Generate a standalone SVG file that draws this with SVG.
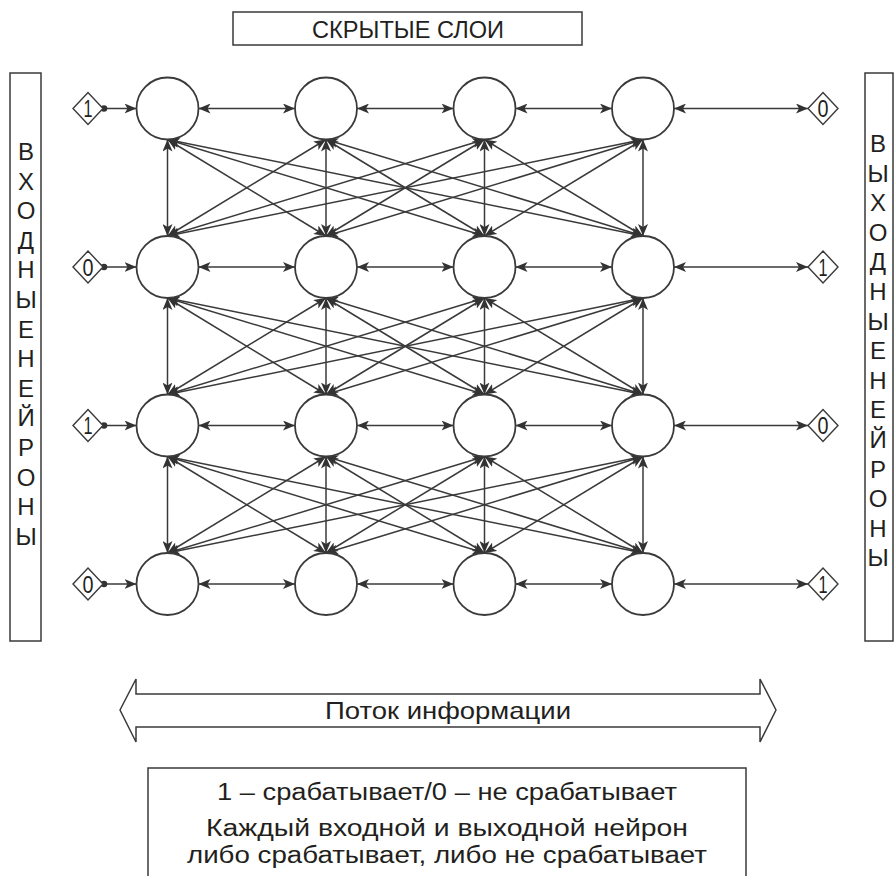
<svg xmlns="http://www.w3.org/2000/svg" width="895" height="876" viewBox="0 0 895 876">
<defs>
<style>
.ln{stroke:#3a3a3a;stroke-width:1.5;fill:none}
.bi{marker-start:url(#ah);marker-end:url(#ah)}
.un{marker-end:url(#ah)}
.box{fill:#fff;stroke:#3a3a3a;stroke-width:1.5}
.nd{fill:#fff;stroke:#3a3a3a;stroke-width:1.8}
.dm{fill:#fff;stroke:#3a3a3a;stroke-width:1.4}
.t{font-family:"Liberation Sans","Open Sans",sans-serif;fill:#231f20}
.lbl{font-size:24px;text-anchor:middle}
.lg{font-size:23px;text-anchor:middle}
.dg{font-size:23px;text-anchor:middle}
</style>
<marker id="ah" viewBox="0 0 12 10" refX="12" refY="5" markerWidth="12" markerHeight="10" orient="auto-start-reverse" markerUnits="userSpaceOnUse">
<path d="M0,0 L12,5 L0,10 L3,5 z" fill="#333"/>
</marker>
</defs>

<g id="title">
<rect class="box" x="233" y="12" width="349" height="33"/>
<text class="t lbl" x="408" y="38" textLength="192" lengthAdjust="spacingAndGlyphs">СКРЫТЫЕ СЛОИ</text>
</g>

<g id="input-label">
<rect class="box" x="10" y="73" width="31" height="568"/>
<text class="t lbl" x="26" y="160">В</text>
<text class="t lbl" x="26" y="189.6">Х</text>
<text class="t lbl" x="26" y="219.2">О</text>
<text class="t lbl" x="26" y="248.8">Д</text>
<text class="t lbl" x="26" y="278.4">Н</text>
<text class="t lbl" x="26" y="308">Ы</text>
<text class="t lbl" x="26" y="337.6">Е</text>
<text class="t lbl" x="26" y="367.2">Н</text>
<text class="t lbl" x="26" y="396.8">Е</text>
<text class="t lbl" x="26" y="426.4">Й</text>
<text class="t lbl" x="26" y="456">Р</text>
<text class="t lbl" x="26" y="485.6">О</text>
<text class="t lbl" x="26" y="515.2">Н</text>
<text class="t lbl" x="26" y="544.8">Ы</text>
</g>

<g id="output-label">
<rect class="box" x="865" y="73" width="28" height="568"/>
<text class="t lbl" x="878" y="152">В</text>
<text class="t lbl" x="878" y="181.6">Ы</text>
<text class="t lbl" x="878" y="211.2">Х</text>
<text class="t lbl" x="878" y="240.8">О</text>
<text class="t lbl" x="878" y="270.4">Д</text>
<text class="t lbl" x="878" y="300">Н</text>
<text class="t lbl" x="878" y="329.6">Ы</text>
<text class="t lbl" x="878" y="359.2">Е</text>
<text class="t lbl" x="878" y="388.8">Н</text>
<text class="t lbl" x="878" y="418.4">Е</text>
<text class="t lbl" x="878" y="448">Й</text>
<text class="t lbl" x="878" y="477.6">Р</text>
<text class="t lbl" x="878" y="507.2">О</text>
<text class="t lbl" x="878" y="536.8">Н</text>
<text class="t lbl" x="878" y="566.4">Ы</text>
</g>

<g id="connectors">
<line class="ln un" x1="104" y1="108.5" x2="136.5" y2="108.5"/>
<line class="ln un" x1="104" y1="267" x2="136.5" y2="267"/>
<line class="ln un" x1="104" y1="425.5" x2="136.5" y2="425.5"/>
<line class="ln un" x1="104" y1="584" x2="136.5" y2="584"/>
<circle cx="104" cy="108.5" r="3.3" fill="#333"/>
<circle cx="104" cy="267" r="3.3" fill="#333"/>
<circle cx="104" cy="425.5" r="3.3" fill="#333"/>
<circle cx="104" cy="584" r="3.3" fill="#333"/>
<line class="ln bi" x1="674" y1="108.5" x2="808" y2="108.5"/>
<line class="ln bi" x1="674" y1="267" x2="808" y2="267"/>
<line class="ln bi" x1="674" y1="425.5" x2="808" y2="425.5"/>
<line class="ln bi" x1="674" y1="584" x2="808" y2="584"/>
<line class="ln bi" x1="198.5" y1="108.5" x2="295" y2="108.5"/>
<line class="ln bi" x1="357" y1="108.5" x2="453.5" y2="108.5"/>
<line class="ln bi" x1="515.5" y1="108.5" x2="612" y2="108.5"/>
<line class="ln bi" x1="198.5" y1="267" x2="295" y2="267"/>
<line class="ln bi" x1="357" y1="267" x2="453.5" y2="267"/>
<line class="ln bi" x1="515.5" y1="267" x2="612" y2="267"/>
<line class="ln bi" x1="198.5" y1="425.5" x2="295" y2="425.5"/>
<line class="ln bi" x1="357" y1="425.5" x2="453.5" y2="425.5"/>
<line class="ln bi" x1="515.5" y1="425.5" x2="612" y2="425.5"/>
<line class="ln bi" x1="198.5" y1="584" x2="295" y2="584"/>
<line class="ln bi" x1="357" y1="584" x2="453.5" y2="584"/>
<line class="ln bi" x1="515.5" y1="584" x2="612" y2="584"/>
<line class="ln bi" x1="167.5" y1="139.5" x2="167.5" y2="236"/>
<line class="ln bi" x1="167.5" y1="139.5" x2="326" y2="236"/>
<line class="ln bi" x1="167.5" y1="139.5" x2="484.5" y2="236"/>
<line class="ln bi" x1="167.5" y1="139.5" x2="643" y2="236"/>
<line class="ln bi" x1="326" y1="139.5" x2="167.5" y2="236"/>
<line class="ln bi" x1="326" y1="139.5" x2="326" y2="236"/>
<line class="ln bi" x1="326" y1="139.5" x2="484.5" y2="236"/>
<line class="ln bi" x1="326" y1="139.5" x2="643" y2="236"/>
<line class="ln bi" x1="484.5" y1="139.5" x2="167.5" y2="236"/>
<line class="ln bi" x1="484.5" y1="139.5" x2="326" y2="236"/>
<line class="ln bi" x1="484.5" y1="139.5" x2="484.5" y2="236"/>
<line class="ln bi" x1="484.5" y1="139.5" x2="643" y2="236"/>
<line class="ln bi" x1="643" y1="139.5" x2="167.5" y2="236"/>
<line class="ln bi" x1="643" y1="139.5" x2="326" y2="236"/>
<line class="ln bi" x1="643" y1="139.5" x2="484.5" y2="236"/>
<line class="ln bi" x1="643" y1="139.5" x2="643" y2="236"/>
<line class="ln bi" x1="167.5" y1="298" x2="167.5" y2="394.5"/>
<line class="ln bi" x1="167.5" y1="298" x2="326" y2="394.5"/>
<line class="ln bi" x1="167.5" y1="298" x2="484.5" y2="394.5"/>
<line class="ln bi" x1="167.5" y1="298" x2="643" y2="394.5"/>
<line class="ln bi" x1="326" y1="298" x2="167.5" y2="394.5"/>
<line class="ln bi" x1="326" y1="298" x2="326" y2="394.5"/>
<line class="ln bi" x1="326" y1="298" x2="484.5" y2="394.5"/>
<line class="ln bi" x1="326" y1="298" x2="643" y2="394.5"/>
<line class="ln bi" x1="484.5" y1="298" x2="167.5" y2="394.5"/>
<line class="ln bi" x1="484.5" y1="298" x2="326" y2="394.5"/>
<line class="ln bi" x1="484.5" y1="298" x2="484.5" y2="394.5"/>
<line class="ln bi" x1="484.5" y1="298" x2="643" y2="394.5"/>
<line class="ln bi" x1="643" y1="298" x2="167.5" y2="394.5"/>
<line class="ln bi" x1="643" y1="298" x2="326" y2="394.5"/>
<line class="ln bi" x1="643" y1="298" x2="484.5" y2="394.5"/>
<line class="ln bi" x1="643" y1="298" x2="643" y2="394.5"/>
<line class="ln bi" x1="167.5" y1="456.5" x2="167.5" y2="553"/>
<line class="ln bi" x1="167.5" y1="456.5" x2="326" y2="553"/>
<line class="ln bi" x1="167.5" y1="456.5" x2="484.5" y2="553"/>
<line class="ln bi" x1="167.5" y1="456.5" x2="643" y2="553"/>
<line class="ln bi" x1="326" y1="456.5" x2="167.5" y2="553"/>
<line class="ln bi" x1="326" y1="456.5" x2="326" y2="553"/>
<line class="ln bi" x1="326" y1="456.5" x2="484.5" y2="553"/>
<line class="ln bi" x1="326" y1="456.5" x2="643" y2="553"/>
<line class="ln bi" x1="484.5" y1="456.5" x2="167.5" y2="553"/>
<line class="ln bi" x1="484.5" y1="456.5" x2="326" y2="553"/>
<line class="ln bi" x1="484.5" y1="456.5" x2="484.5" y2="553"/>
<line class="ln bi" x1="484.5" y1="456.5" x2="643" y2="553"/>
<line class="ln bi" x1="643" y1="456.5" x2="167.5" y2="553"/>
<line class="ln bi" x1="643" y1="456.5" x2="326" y2="553"/>
<line class="ln bi" x1="643" y1="456.5" x2="484.5" y2="553"/>
<line class="ln bi" x1="643" y1="456.5" x2="643" y2="553"/>
</g>

<g id="in-0"><polygon class="dm" points="73,108.5 88,92.5 103,108.5 88,124.5"/><text class="t dg" x="88" y="117" textLength="9" lengthAdjust="spacingAndGlyphs">1</text></g>
<g id="in-1"><polygon class="dm" points="73,267 88,251 103,267 88,283"/><text class="t dg" x="88" y="275.5" textLength="11" lengthAdjust="spacingAndGlyphs">0</text></g>
<g id="in-2"><polygon class="dm" points="73,425.5 88,409.5 103,425.5 88,441.5"/><text class="t dg" x="88" y="434" textLength="9" lengthAdjust="spacingAndGlyphs">1</text></g>
<g id="in-3"><polygon class="dm" points="73,584 88,568 103,584 88,600"/><text class="t dg" x="88" y="592.5" textLength="11" lengthAdjust="spacingAndGlyphs">0</text></g>

<g id="out-0"><polygon class="dm" points="808,108.5 823,92.5 838,108.5 823,124.5"/><text class="t dg" x="823" y="117" textLength="11" lengthAdjust="spacingAndGlyphs">0</text></g>
<g id="out-1"><polygon class="dm" points="808,267 823,251 838,267 823,283"/><text class="t dg" x="823" y="275.5" textLength="9" lengthAdjust="spacingAndGlyphs">1</text></g>
<g id="out-2"><polygon class="dm" points="808,425.5 823,409.5 838,425.5 823,441.5"/><text class="t dg" x="823" y="434" textLength="11" lengthAdjust="spacingAndGlyphs">0</text></g>
<g id="out-3"><polygon class="dm" points="808,584 823,568 838,584 823,600"/><text class="t dg" x="823" y="592.5" textLength="9" lengthAdjust="spacingAndGlyphs">1</text></g>

<g id="n00"><circle class="nd" cx="167.5" cy="108.5" r="31"/></g>
<g id="n01"><circle class="nd" cx="326" cy="108.5" r="31"/></g>
<g id="n02"><circle class="nd" cx="484.5" cy="108.5" r="31"/></g>
<g id="n03"><circle class="nd" cx="643" cy="108.5" r="31"/></g>
<g id="n10"><circle class="nd" cx="167.5" cy="267" r="31"/></g>
<g id="n11"><circle class="nd" cx="326" cy="267" r="31"/></g>
<g id="n12"><circle class="nd" cx="484.5" cy="267" r="31"/></g>
<g id="n13"><circle class="nd" cx="643" cy="267" r="31"/></g>
<g id="n20"><circle class="nd" cx="167.5" cy="425.5" r="31"/></g>
<g id="n21"><circle class="nd" cx="326" cy="425.5" r="31"/></g>
<g id="n22"><circle class="nd" cx="484.5" cy="425.5" r="31"/></g>
<g id="n23"><circle class="nd" cx="643" cy="425.5" r="31"/></g>
<g id="n30"><circle class="nd" cx="167.5" cy="584" r="31"/></g>
<g id="n31"><circle class="nd" cx="326" cy="584" r="31"/></g>
<g id="n32"><circle class="nd" cx="484.5" cy="584" r="31"/></g>
<g id="n33"><circle class="nd" cx="643" cy="584" r="31"/></g>

<g id="flow">
<polygon class="box" points="120,710 136,679 136,694 760,694 760,679 776,710 760,742 760,727 136,727 136,742"/>
<text class="t lbl" x="448" y="719" textLength="246" lengthAdjust="spacingAndGlyphs">Поток информации</text>
</g>

<g id="legend">
<rect class="box" x="148" y="768" width="598" height="130"/>
<text class="t lg" x="447" y="800" textLength="460" lengthAdjust="spacingAndGlyphs">1 – срабатывает/0 – не срабатывает</text>
<text class="t lg" x="447" y="836" textLength="482" lengthAdjust="spacingAndGlyphs">Каждый входной и выходной нейрон</text>
<text class="t lg" x="447" y="863" textLength="520" lengthAdjust="spacingAndGlyphs">либо срабатывает, либо не срабатывает</text>
</g>
</svg>
